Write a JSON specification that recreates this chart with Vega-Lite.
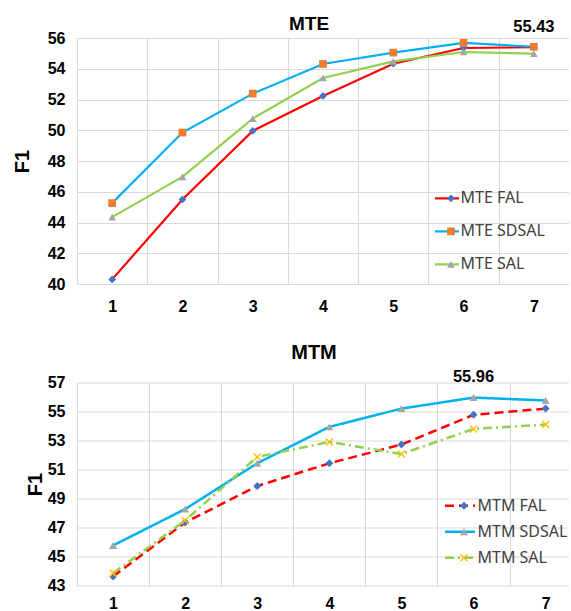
{
  "$schema": "https://vega.github.io/schema/vega-lite/v6.json",
  "padding": {"left": 12, "top": 14, "right": 0, "bottom": 0},
  "spacing": 28.5,
  "resolve": {
    "scale": {"stroke": "independent", "fill": "independent", "shape": "independent", "strokeDash": "independent"},
    "legend": {"stroke": "independent", "fill": "independent", "shape": "independent", "strokeDash": "independent"}
  },
  "config": {
    "view": {"stroke": null},
    "axis": {
      "gridColor": "#d9d9d9", "gridWidth": 1,
      "domain": false, "ticks": false, "tickSize": 0,
      "labelFont": "Liberation Sans", "labelFontWeight": "bold", "labelFontSize": 16, "labelColor": "#000000",
      "titleFont": "Liberation Sans", "titleFontWeight": "bold", "titleFontSize": 20, "titleColor": "#000000"
    },
    "title": {"font": "Liberation Sans", "fontWeight": "bold", "color": "#000000", "frame": "group"}
  },
  "vconcat": [
    {
      "width": 492,
      "height": 246,
      "title": {"text": "MTE", "fontSize": 19, "offset": -15, "dx": -14},
      "data": {"values": [
        {"x": 1, "F1": 40.3, "series": "MTE FAL"},
        {"x": 2, "F1": 45.5, "series": "MTE FAL"},
        {"x": 3, "F1": 49.96, "series": "MTE FAL"},
        {"x": 4, "F1": 52.23, "series": "MTE FAL"},
        {"x": 5, "F1": 54.33, "series": "MTE FAL"},
        {"x": 6, "F1": 55.35, "series": "MTE FAL"},
        {"x": 7, "F1": 55.4, "series": "MTE FAL"},
        {"x": 1, "F1": 45.26, "series": "MTE SDSAL"},
        {"x": 2, "F1": 49.85, "series": "MTE SDSAL"},
        {"x": 3, "F1": 52.38, "series": "MTE SDSAL"},
        {"x": 4, "F1": 54.31, "series": "MTE SDSAL"},
        {"x": 5, "F1": 55.05, "series": "MTE SDSAL"},
        {"x": 6, "F1": 55.68, "series": "MTE SDSAL"},
        {"x": 7, "F1": 55.43, "series": "MTE SDSAL"},
        {"x": 1, "F1": 44.35, "series": "MTE SAL"},
        {"x": 2, "F1": 46.97, "series": "MTE SAL"},
        {"x": 3, "F1": 50.76, "series": "MTE SAL"},
        {"x": 4, "F1": 53.4, "series": "MTE SAL"},
        {"x": 5, "F1": 54.48, "series": "MTE SAL"},
        {"x": 6, "F1": 55.09, "series": "MTE SAL"},
        {"x": 7, "F1": 54.98, "series": "MTE SAL"}
      ]},
      "resolve": {"axis": {"x": "independent"}},
      "encoding": {
        "y": {"field": "F1", "type": "quantitative",
          "scale": {"domain": [40, 56], "nice": false, "zero": false},
          "axis": {"title": "F1", "grid": true, "values": [40, 42, 44, 46, 48, 50, 52, 54, 56],
            "labelOverlap": false, "labelPadding": 12, "titlePadding": 15}}
      },
      "layer": [
        {
          "mark": {"type": "line", "strokeWidth": 2.2},
          "encoding": {
            "x": {"field": "x", "type": "quantitative",
              "scale": {"domain": [0.5, 7.5], "nice": false, "zero": false},
              "axis": {"title": null, "orient": "bottom", "grid": false, "values": [1, 2, 3, 4, 5, 6, 7],
                "labelOverlap": false, "labelFlush": false, "labelPadding": 14}},
            "stroke": {"field": "series", "type": "nominal",
              "scale": {"domain": ["MTE FAL", "MTE SDSAL", "MTE SAL"], "range": ["#ff0000", "#00b0f0", "#92d050"]},
              "legend": {"orient": "none", "legendX": 356.5, "legendY": 150.3, "title": null,
                "symbolType": "stroke", "symbolSize": 576, "symbolStrokeWidth": 2.2,
                "clipHeight": 20, "rowPadding": 13, "padding": 0, "offset": 0,
                "labelFont": "Noto Sans", "labelFontSize": 16, "labelColor": "#404040", "labelOffset": 0}}
          }
        },
        {
          "mark": {"type": "point", "filled": true, "size": 60, "opacity": 1},
          "encoding": {
            "x": {"field": "x", "type": "quantitative",
              "axis": {"title": null, "orient": "bottom", "grid": true, "labels": false, "domain": false, "ticks": false,
                "values": [0.5, 1.5, 2.5, 3.5, 4.5, 5.5, 6.5]}},
            "fill": {"field": "series", "type": "nominal",
              "scale": {"domain": ["MTE FAL", "MTE SDSAL", "MTE SAL", "-"], "range": ["#4472c4", "#ed7d31", "#a5a5a5", "transparent"]},
              "legend": {"orient": "none", "legendX": 366, "legendY": 150.3, "title": null,
                "values": ["MTE FAL", "MTE SDSAL", "MTE SAL"],
                "symbolSize": 60, "symbolStrokeWidth": 0, "symbolOpacity": 1,
                "clipHeight": 20, "rowPadding": 13, "padding": 0, "offset": 0,
                "labelFont": "Noto Sans", "labelFontSize": 16, "labelOpacity": 0}},
            "shape": {"field": "series", "type": "nominal",
              "scale": {"domain": ["MTE FAL", "MTE SDSAL", "MTE SAL", "-"], "range": ["diamond", "square", "triangle-up", "circle"]}}
          }
        },
        {
          "data": {"values": [{"x": 7, "F1": 55.43, "label": "55.43"}]},
          "mark": {"type": "text", "dy": -20, "font": "Liberation Sans", "fontWeight": "bold", "fontSize": 16.5, "color": "#000000"},
          "encoding": {
            "x": {"field": "x", "type": "quantitative", "axis": null},
            "text": {"field": "label"}
          }
        }
      ]
    },
    {
      "width": 492,
      "height": 203,
      "title": {"text": "MTM", "fontSize": 20, "offset": 5.5, "dx": -9},
      "data": {"values": [
        {"x": 1, "F1": 43.62, "series": "MTM FAL"},
        {"x": 2, "F1": 47.35, "series": "MTM FAL"},
        {"x": 3, "F1": 49.86, "series": "MTM FAL"},
        {"x": 4, "F1": 51.43, "series": "MTM FAL"},
        {"x": 5, "F1": 52.72, "series": "MTM FAL"},
        {"x": 6, "F1": 54.77, "series": "MTM FAL"},
        {"x": 7, "F1": 55.2, "series": "MTM FAL"},
        {"x": 1, "F1": 45.76, "series": "MTM SDSAL"},
        {"x": 2, "F1": 48.27, "series": "MTM SDSAL"},
        {"x": 3, "F1": 51.43, "series": "MTM SDSAL"},
        {"x": 4, "F1": 53.94, "series": "MTM SDSAL"},
        {"x": 5, "F1": 55.2, "series": "MTM SDSAL"},
        {"x": 6, "F1": 55.96, "series": "MTM SDSAL"},
        {"x": 7, "F1": 55.76, "series": "MTM SDSAL"},
        {"x": 1, "F1": 43.85, "series": "MTM SAL"},
        {"x": 2, "F1": 47.49, "series": "MTM SAL"},
        {"x": 3, "F1": 51.87, "series": "MTM SAL"},
        {"x": 4, "F1": 52.9, "series": "MTM SAL"},
        {"x": 5, "F1": 52.07, "series": "MTM SAL"},
        {"x": 6, "F1": 53.8, "series": "MTM SAL"},
        {"x": 7, "F1": 54.1, "series": "MTM SAL"}
      ]},
      "resolve": {"axis": {"x": "independent"}},
      "encoding": {
        "y": {"field": "F1", "type": "quantitative",
          "scale": {"domain": [43, 57], "nice": false, "zero": false},
          "axis": {"title": "F1", "grid": true, "values": [43, 45, 47, 49, 51, 53, 55, 57],
            "labelOverlap": false, "labelPadding": 12, "titlePadding": 2}}
      },
      "layer": [
        {
          "mark": {"type": "line", "strokeWidth": 2.5},
          "encoding": {
            "x": {"field": "x", "type": "quantitative",
              "scale": {"domain": [0.5, 7.324], "nice": false, "zero": false},
              "axis": {"title": null, "orient": "bottom", "grid": false, "values": [1, 2, 3, 4, 5, 6, 7],
                "labelOverlap": false, "labelFlush": false, "labelPadding": 10}},
            "stroke": {"field": "series", "type": "nominal",
              "scale": {"domain": ["MTM FAL", "MTM SDSAL", "MTM SAL"], "range": ["#ff0000", "#00b0f0", "#92d050"]},
              "legend": {"orient": "none", "legendX": 366.5, "legendY": 113.2, "title": null,
                "symbolType": "stroke", "symbolSize": 900, "symbolStrokeWidth": 2.5,
                "clipHeight": 20, "rowPadding": 6, "padding": 0, "offset": 0,
                "labelFont": "Noto Sans", "labelFontSize": 16, "labelColor": "#404040", "labelOffset": 1}},
            "strokeDash": {"field": "series", "type": "nominal",
              "scale": {"domain": ["MTM FAL", "MTM SDSAL", "MTM SAL"], "range": [[9, 5], [1, 0], [9, 4, 2, 4]]}}
          }
        },
        {
          "mark": {"type": "point", "filled": true, "size": 64, "opacity": 1},
          "encoding": {
            "x": {"field": "x", "type": "quantitative",
              "axis": {"title": null, "orient": "bottom", "grid": true, "labels": false, "domain": false, "ticks": false,
                "values": [0.5, 1.5, 2.5, 3.5, 4.5, 5.5, 6.5]}},
            "fill": {"field": "series", "type": "nominal",
              "scale": {"domain": ["MTM FAL", "MTM SDSAL", "MTM SAL", "-"], "range": ["#4472c4", "#a5a5a5", "#ffc000", "transparent"]},
              "legend": {"orient": "none", "legendX": 379, "legendY": 113.2, "title": null,
                "values": ["MTM FAL", "MTM SDSAL", "MTM SAL"],
                "symbolSize": 64, "symbolStrokeWidth": 0, "symbolOpacity": 1,
                "clipHeight": 20, "rowPadding": 6, "padding": 0, "offset": 0,
                "labelFont": "Noto Sans", "labelFontSize": 16, "labelOpacity": 0}},
            "shape": {"field": "series", "type": "nominal",
              "scale": {"domain": ["MTM FAL", "MTM SDSAL", "MTM SAL", "-"], "range": ["diamond", "triangle-up", "M-1,-0.75L-0.75,-1L0,-0.25L0.75,-1L1,-0.75L0.25,0L1,0.75L0.75,1L0,0.25L-0.75,1L-1,0.75L-0.25,0Z", "circle"]}}
          }
        },
        {
          "data": {"values": [{"x": 6, "F1": 55.96, "label": "55.96"}]},
          "mark": {"type": "text", "dy": -21, "font": "Liberation Sans", "fontWeight": "bold", "fontSize": 16.5, "color": "#000000"},
          "encoding": {
            "x": {"field": "x", "type": "quantitative", "axis": null},
            "text": {"field": "label"}
          }
        }
      ]
    }
  ]
}
